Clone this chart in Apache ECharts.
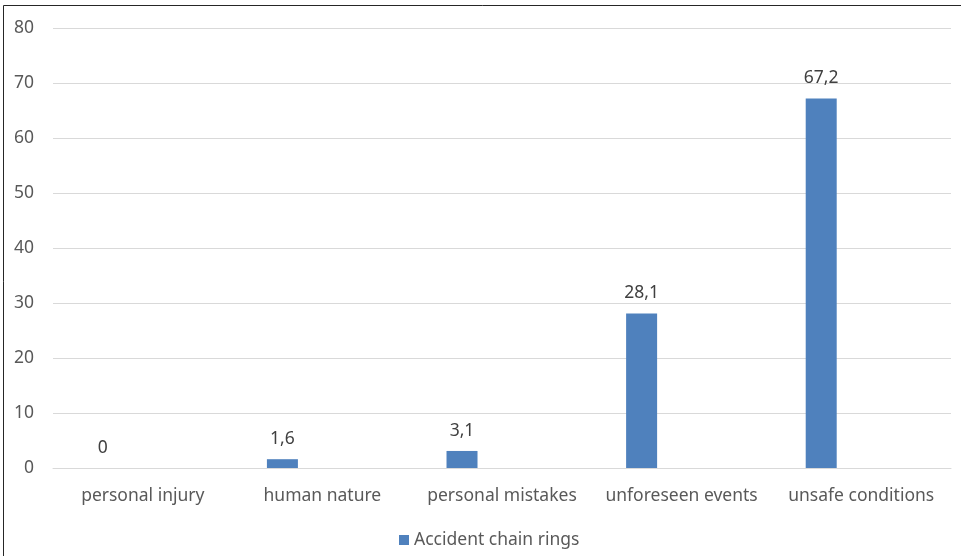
<!DOCTYPE html>
<html>
<head>
<meta charset="utf-8">
<script src="https://cdn.jsdelivr.net/npm/echarts@6/dist/echarts.min.js"></script>
<style>html,body{margin:0;padding:0;background:#fff}#c{width:961px;height:556px}</style>
</head>
<body>
<div id="c"></div>
<script>
var categories = ['personal injury', 'human nature', 'personal mistakes', 'unforeseen events', 'unsafe conditions'];
var values = [0, 1.6, 3.1, 28.1, 67.2];
var seriesName = 'Accident chain rings';
var yTicks = {min: 0, max: 80, interval: 10};

var chart = echarts.init(document.getElementById('c'), null, {renderer: 'canvas'});
var font = '"Noto Sans", sans-serif';
var fs = 17.5;
chart.setOption({
  animation: false,
  textStyle: {fontFamily: font},
  graphic: [{
    type: 'rect', silent: true,
    shape: {x: 3.5, y: 5.5, width: 1100, height: 700},
    style: {fill: 'none', stroke: '#262626', lineWidth: 1}
  }],
  grid: {left: 53, right: 10, top: 28, bottom: 88, containLabel: false},
  legend: {
    data: [seriesName], bottom: 2, left: 394,
    icon: 'rect', itemWidth: 10, itemHeight: 10, itemGap: 7,
    textStyle: {color: '#595959', fontSize: fs, fontFamily: font}
  },
  xAxis: {
    type: 'category', data: categories,
    axisLine: {lineStyle: {color: '#d9d9d9', width: 1}},
    axisTick: {show: false},
    axisLabel: {color: '#595959', fontSize: fs, margin: 19, fontFamily: font, interval: 0}
  },
  yAxis: {
    type: 'value', min: yTicks.min, max: yTicks.max, interval: yTicks.interval,
    axisLine: {show: false}, axisTick: {show: false},
    splitLine: {lineStyle: {color: '#d9d9d9', width: 1}},
    axisLabel: {color: '#595959', fontSize: fs, margin: 19, fontFamily: font}
  },
  series: [{
    name: seriesName, type: 'bar', data: values,
    barWidth: 31, barGap: '158%',
    itemStyle: {color: '#4f81bd'},
    label: {
      show: true, position: 'top', distance: 11,
      color: '#404040', fontSize: fs, fontFamily: font,
      formatter: function (p) { return String(p.value).replace('.', ','); }
    }
  }, {
    name: 'hidden', type: 'bar', data: [], barWidth: 31
  }]
});
</script>
</body>
</html>
